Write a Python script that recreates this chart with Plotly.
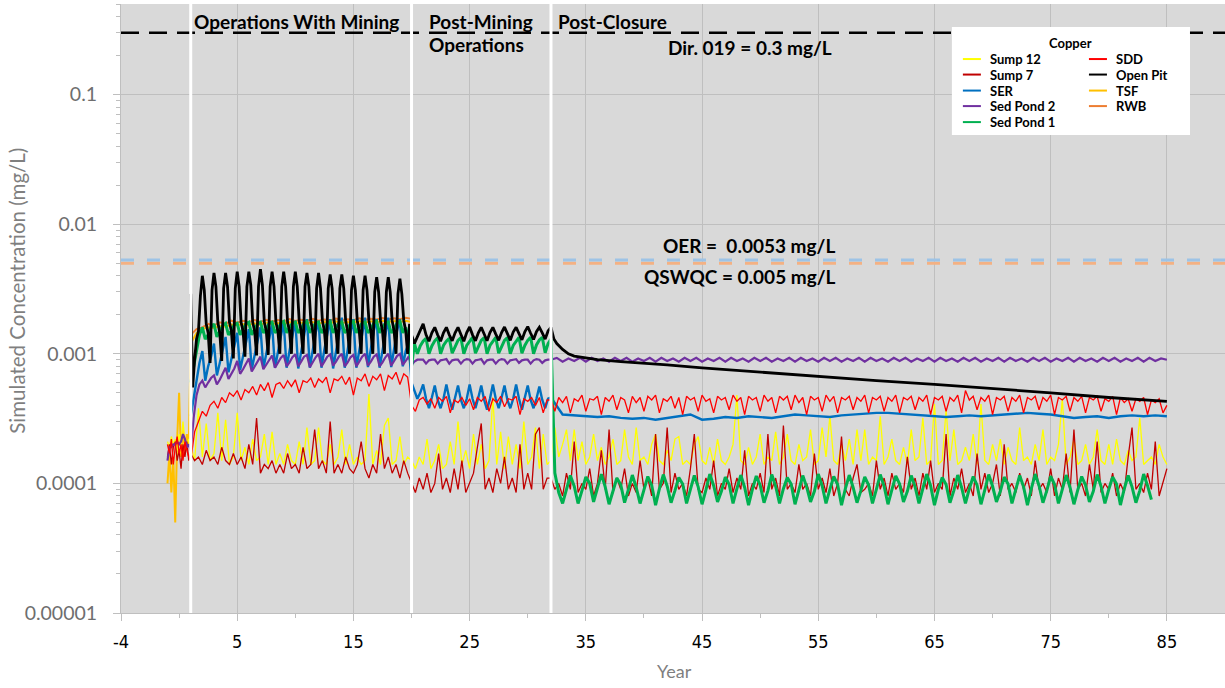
import plotly.graph_objects as go

# ---------------------------------------------------------------------------
# Time grids (years).  Each series is stored per project phase; the sampling
# step of each phase block is given next to it.
# ---------------------------------------------------------------------------
PRE_START, PRE_STEP = -1.0, 1 / 6      # pre-mining, two-monthly
OPS_START = 1.0                        # operations with mining
PM_START = 20.0                        # post-mining operations
PC_START = 32.0                        # post-closure
Q = 0.25                               # quarterly step
T3 = 1 / 3                             # four-monthly step
T6 = 1 / 6                             # two-monthly step

PHASE_BREAKS = [1, 20, 32]

# Guideline values (mg/L)
DIR019 = 0.3
OER = 0.0053
QSWQC = 0.005

# ---------------------------------------------------------------------------
# Simulated copper concentrations, in ug/L
# ---------------------------------------------------------------------------
SUMP12_PRE = [0.21, 0.19, 0.23, 0.2, 0.22, 0.18, 0.24, 0.2, 0.3, 0.21, 0.19, 0.22]
SUMP12_OPS = [0.2, 0.15, 0.38, 0.16, 0.29, 0.15, 0.17, 0.35, 0.15, 0.31, 0.14, 0.16,
              0.35, 0.15, 0.19, 0.14, 0.22, 0.15, 0.16, 0.24, 0.14, 0.25, 0.14, 0.17,
              0.14, 0.2, 0.15, 0.14, 0.21, 0.14, 0.27, 0.14, 0.15, 0.27, 0.15, 0.14,
              0.2, 0.14, 0.16, 0.26, 0.14, 0.2, 0.14, 0.16, 0.14, 0.15, 0.49, 0.14,
              0.18, 0.14, 0.28, 0.32, 0.14, 0.15, 0.23, 0.14, 0.16]
SUMP12_PM = [0.15, 0.13, 0.16, 0.14, 0.22, 0.13, 0.15, 0.2, 0.13, 0.14, 0.21, 0.14,
             0.3, 0.14, 0.18, 0.13, 0.24, 0.14, 0.2, 0.13, 0.15, 0.46, 0.14, 0.25,
             0.13, 0.23, 0.14, 0.2, 0.13, 0.3, 0.14, 0.16, 0.27, 0.13, 0.24, 0.14]
SUMP12_PC = [0.15, 0.27, 0.16, 0.2, 0.26, 0.15, 0.26, 0.15, 0.21, 0.14, 0.16, 0.24,
             0.15, 0.19, 0.14, 0.16, 0.22, 0.14, 0.15, 0.26, 0.16, 0.14, 0.27, 0.15,
             0.16, 0.14, 0.2, 0.24, 0.15, 0.14, 0.18, 0.15, 0.22, 0.23, 0.14, 0.15,
             0.14, 0.2, 0.23, 0.15, 0.14, 0.19, 0.14, 0.22, 0.15, 0.14, 0.16, 0.2,
             0.48, 0.15, 0.14, 0.19, 0.14, 0.16, 0.24, 0.14, 0.16, 0.15, 0.25, 0.14,
             0.16, 0.24, 0.15, 0.14, 0.2, 0.15, 0.16, 0.26, 0.14, 0.15, 0.27, 0.16,
             0.33, 0.15, 0.14, 0.2, 0.15, 0.22, 0.14, 0.26, 0.15, 0.26, 0.14, 0.16,
             0.15, 0.33, 0.14, 0.16, 0.22, 0.15, 0.14, 0.19, 0.14, 0.26, 0.15, 0.16,
             0.32, 0.14, 0.15, 0.41, 0.14, 0.15, 0.37, 0.15, 0.26, 0.14, 0.15, 0.19,
             0.15, 0.24, 0.14, 0.41, 0.15, 0.14, 0.2, 0.15, 0.22, 0.14, 0.19, 0.15,
             0.14, 0.27, 0.15, 0.16, 0.14, 0.2, 0.15, 0.26, 0.14, 0.16, 0.15, 0.2,
             0.45, 0.14, 0.16, 0.22, 0.14, 0.15, 0.2, 0.14, 0.16, 0.26, 0.15, 0.14,
             0.2, 0.14, 0.22, 0.15, 0.14, 0.18, 0.15, 0.16, 0.32, 0.14, 0.15, 0.16,
             0.14, 0.2, 0.16, 0.14]

SUMP7_PRE = [0.16, 0.2, 0.14, 0.19, 0.21, 0.15, 0.18, 0.13, 0.2, 0.16, 0.21, 0.15]
SUMP7_OPS = [0.17, 0.15, 0.16, 0.14, 0.18, 0.15, 0.16, 0.14, 0.19, 0.15, 0.14, 0.17,
             0.14, 0.16, 0.13, 0.2, 0.14, 0.32, 0.12, 0.14, 0.13, 0.15, 0.12, 0.14,
             0.12, 0.17, 0.13, 0.14, 0.12, 0.19, 0.13, 0.14, 0.26, 0.13, 0.15, 0.12,
             0.3, 0.12, 0.14, 0.12, 0.16, 0.13, 0.12, 0.14, 0.21, 0.13, 0.11, 0.14,
             0.12, 0.24, 0.13, 0.16, 0.12, 0.14, 0.11, 0.15, 0.12]
SUMP7_PM = [0.1, 0.085, 0.11, 0.09, 0.12, 0.085, 0.1, 0.17, 0.09, 0.11, 0.085, 0.13,
            0.09, 0.15, 0.085, 0.1, 0.12, 0.19, 0.29, 0.09, 0.11, 0.085, 0.13, 0.1,
            0.16, 0.09, 0.11, 0.085, 0.2, 0.09, 0.12, 0.09, 0.24, 0.27, 0.09, 0.11]
SUMP7_PC = [0.11, 0.09, 0.1, 0.08, 0.12, 0.09, 0.21, 0.085, 0.1, 0.09, 0.13, 0.08,
            0.1, 0.18, 0.09, 0.26, 0.085, 0.11, 0.09, 0.13, 0.08, 0.1, 0.085, 0.15,
            0.09, 0.11, 0.08, 0.24, 0.09, 0.1, 0.27, 0.085, 0.12, 0.09, 0.1, 0.08,
            0.13, 0.24, 0.09, 0.085, 0.11, 0.09, 0.15, 0.08, 0.1, 0.09, 0.13, 0.085,
            0.11, 0.09, 0.18, 0.08, 0.1, 0.09, 0.12, 0.085, 0.24, 0.09, 0.11, 0.08,
            0.28, 0.09, 0.1, 0.085, 0.14, 0.09, 0.1, 0.08, 0.17, 0.09, 0.11, 0.085,
            0.13, 0.08, 0.1, 0.23, 0.09, 0.08, 0.11, 0.14, 0.085, 0.09, 0.1, 0.08,
            0.15, 0.09, 0.11, 0.08, 0.12, 0.09, 0.1, 0.085, 0.16, 0.09, 0.11, 0.08,
            0.12, 0.09, 0.15, 0.085, 0.1, 0.09, 0.24, 0.08, 0.11, 0.09, 0.13, 0.085,
            0.1, 0.08, 0.17, 0.09, 0.12, 0.085, 0.1, 0.14, 0.08, 0.2, 0.09, 0.1,
            0.085, 0.12, 0.09, 0.11, 0.08, 0.15, 0.09, 0.1, 0.085, 0.13, 0.08, 0.11,
            0.09, 0.17, 0.085, 0.26, 0.09, 0.1, 0.08, 0.14, 0.09, 0.21, 0.085, 0.1,
            0.09, 0.12, 0.08, 0.1, 0.085, 0.16, 0.27, 0.09, 0.1, 0.085, 0.12, 0.09,
            0.21, 0.08, 0.1, 0.13]

SDD_PRE = [0.2, 0.17, 0.22, 0.14, 0.19, 0.23, 0.17, 0.2, 0.15, 0.21, 0.18, 0.16]
SDD_OPS = [0.15, 0.25, 0.3, 0.36, 0.33, 0.4, 0.43, 0.38, 0.46, 0.42, 0.5, 0.47,
           0.52, 0.44, 0.53, 0.5, 0.56, 0.48, 0.58, 0.52, 0.6, 0.46, 0.58, 0.6,
           0.54, 0.62, 0.56, 0.63, 0.5, 0.62, 0.6, 0.65, 0.55, 0.64, 0.6, 0.66,
           0.5, 0.64, 0.62, 0.67, 0.58, 0.66, 0.48, 0.65, 0.62, 0.7, 0.56, 0.67,
           0.63, 0.7, 0.52, 0.68, 0.64, 0.72, 0.58, 0.7, 0.66]
SDD_PM = [0.4, 0.36, 0.44, 0.46, 0.41, 0.45, 0.38, 0.46, 0.43, 0.47, 0.35, 0.44,
          0.42, 0.46, 0.4, 0.45, 0.37, 0.46, 0.43, 0.47, 0.36, 0.45, 0.42, 0.47,
          0.39, 0.45, 0.44, 0.47, 0.34, 0.45, 0.43, 0.46, 0.4, 0.46, 0.35, 0.44]
SDD_PC = [0.44, 0.36, 0.46, 0.42, 0.47, 0.35, 0.45, 0.43, 0.48, 0.36, 0.45, 0.44,
          0.47, 0.34, 0.46, 0.43, 0.48, 0.37, 0.46, 0.44, 0.35, 0.47, 0.42, 0.46,
          0.36, 0.47, 0.44, 0.48, 0.35, 0.45, 0.43, 0.47, 0.38, 0.46, 0.34, 0.47,
          0.44, 0.46, 0.36, 0.48, 0.43, 0.45, 0.35, 0.47, 0.44, 0.46, 0.37, 0.48,
          0.43, 0.46, 0.34, 0.47, 0.44, 0.46, 0.36, 0.48, 0.43, 0.46, 0.35, 0.47,
          0.44, 0.47, 0.37, 0.48, 0.42, 0.46, 0.34, 0.47, 0.44, 0.46, 0.36, 0.48,
          0.43, 0.47, 0.35, 0.46, 0.44, 0.47, 0.37, 0.46, 0.43, 0.48, 0.35, 0.46,
          0.44, 0.47, 0.36, 0.46, 0.43, 0.48, 0.35, 0.46, 0.44, 0.47, 0.37, 0.46,
          0.43, 0.48, 0.34, 0.46, 0.44, 0.47, 0.36, 0.46, 0.43, 0.48, 0.35, 0.52,
          0.44, 0.47, 0.37, 0.46, 0.43, 0.48, 0.34, 0.46, 0.44, 0.47, 0.36, 0.46,
          0.43, 0.48, 0.35, 0.46, 0.44, 0.47, 0.37, 0.46, 0.43, 0.48, 0.34, 0.46,
          0.44, 0.47, 0.36, 0.46, 0.43, 0.47, 0.35, 0.46, 0.44, 0.47, 0.36, 0.45,
          0.43, 0.47, 0.34, 0.46, 0.42, 0.45, 0.36, 0.45, 0.43, 0.46, 0.34, 0.44,
          0.42, 0.45, 0.35, 0.4]

SER_OPS = [0.33, 0.45, 0.65, 0.85, 1.05, 0.62, 0.8, 0.95, 1.2, 0.68, 0.85, 1.05,
           1.35, 0.72, 0.9, 1.15, 1.45, 0.75, 0.95, 1.2, 1.55, 0.76, 1.0, 1.25,
           1.6, 0.77, 1.0, 1.3, 1.7, 0.78, 1.05, 1.35, 1.75, 0.78, 1.05, 1.4,
           1.8, 0.77, 1.05, 1.4, 1.85, 0.78, 1.05, 1.45, 1.8, 0.78, 1.08, 1.45,
           1.85, 0.77, 1.05, 1.45, 1.9, 0.78, 1.08, 1.45, 1.85, 0.78, 1.05, 1.45,
           1.9, 0.79, 1.08, 1.5, 1.85, 0.78, 1.05, 1.45, 1.9, 0.79, 1.08, 1.5,
           1.85, 0.8, 1.05, 1.2]
SER_PM = [0.6, 0.52, 0.45, 0.5, 0.58, 0.45, 0.38, 0.46, 0.57, 0.44, 0.38, 0.45,
          0.58, 0.45, 0.37, 0.46, 0.57, 0.44, 0.38, 0.45, 0.58, 0.45, 0.38, 0.46,
          0.57, 0.44, 0.37, 0.45, 0.58, 0.45, 0.38, 0.46, 0.57, 0.44, 0.38, 0.45,
          0.58, 0.45, 0.37, 0.46, 0.57, 0.44, 0.38, 0.45, 0.56, 0.44, 0.38, 0.45]
SER_PC = [0.46, 0.34, 0.335, 0.33, 0.325, 0.33, 0.32, 0.315, 0.32, 0.31, 0.32,
          0.33, 0.34, 0.31, 0.315, 0.325, 0.32, 0.33, 0.325, 0.32, 0.33, 0.34,
          0.335, 0.33, 0.325, 0.335, 0.34, 0.345, 0.35, 0.35, 0.345, 0.34, 0.335,
          0.33, 0.325, 0.33, 0.335, 0.33, 0.335, 0.34, 0.345, 0.35, 0.345, 0.34,
          0.33, 0.32, 0.325, 0.33, 0.32, 0.33, 0.335, 0.33, 0.335, 0.33]

SEDPOND2_PRE = [0.15, 0.19, 0.19, 0.2, 0.2, 0.21, 0.2, 0.21, 0.24, 0.22, 0.19, 0.2]
SEDPOND2_OPS = [0.18, 0.32, 0.48, 0.58, 0.62, 0.55, 0.6, 0.65, 0.68, 0.58, 0.63, 0.7,
                0.78, 0.64, 0.7, 0.77, 0.88, 0.7, 0.76, 0.84, 0.92, 0.73, 0.8, 0.88,
                0.95, 0.76, 0.83, 0.91, 0.97, 0.78, 0.85, 0.93, 0.98, 0.8, 0.86, 0.94,
                0.99, 0.8, 0.87, 0.95, 0.98, 0.79, 0.86, 0.94, 1.0, 0.8, 0.87, 0.95,
                0.99, 0.81, 0.87, 0.95, 1.0, 0.8, 0.86, 0.94, 0.98, 0.8, 0.87, 0.95,
                1.0, 0.81, 0.87, 0.95, 0.99, 0.8, 0.86, 0.94, 1.0, 0.81, 0.88, 0.96,
                1.0, 0.82, 0.88, 0.95]
SEDPOND2_PM = [0.82, 0.87, 0.9, 0.9, 0.9, 0.84, 0.89, 0.9, 0.9, 0.84, 0.89, 0.9,
               0.91, 0.84, 0.89, 0.9, 0.9, 0.84, 0.89, 0.91, 0.9, 0.84, 0.89, 0.9,
               0.91, 0.84, 0.89, 0.9, 0.9, 0.84, 0.89, 0.91, 0.9, 0.84, 0.89, 0.9,
               0.91, 0.85, 0.89, 0.9, 0.9, 0.84, 0.89, 0.91, 0.9, 0.85, 0.89, 0.9]
SEDPOND2_PC = [0.9, 0.93, 0.87, 0.92, 0.88, 0.93, 0.87, 0.93, 0.88, 0.92,
               0.87, 0.93, 0.88, 0.93, 0.87, 0.92, 0.88, 0.93, 0.87, 0.93,
               0.88, 0.92, 0.87, 0.93, 0.88, 0.93, 0.87, 0.92, 0.88, 0.93,
               0.87, 0.93, 0.88, 0.92, 0.87, 0.93, 0.88, 0.93, 0.87, 0.92,
               0.88, 0.93, 0.87, 0.93, 0.88, 0.92, 0.87, 0.93, 0.88, 0.93,
               0.87, 0.92, 0.88, 0.93, 0.87, 0.93, 0.88, 0.92, 0.87, 0.93,
               0.88, 0.93, 0.87, 0.92, 0.88, 0.93, 0.87, 0.93, 0.88, 0.92,
               0.87, 0.93, 0.88, 0.93, 0.87, 0.92, 0.88, 0.93, 0.87, 0.93,
               0.88, 0.92, 0.87, 0.93, 0.88, 0.93, 0.87, 0.92, 0.88, 0.93,
               0.87, 0.93, 0.88, 0.92, 0.87, 0.93, 0.88, 0.93, 0.87, 0.92,
               0.88, 0.93, 0.87, 0.93, 0.88, 0.92, 0.9]

SEDPOND1_OPS = [0.6, 0.8, 1.1, 1.4, 1.6, 1.3, 1.4, 1.6, 1.7, 1.35, 1.5, 1.65,
                1.72, 1.4, 1.5, 1.68, 1.72, 1.4, 1.55, 1.7, 1.75, 1.4, 1.55, 1.7,
                1.75, 1.45, 1.55, 1.72, 1.76, 1.45, 1.55, 1.72, 1.78, 1.45, 1.6, 1.72,
                1.76, 1.45, 1.55, 1.72, 1.78, 1.45, 1.6, 1.72, 1.76, 1.45, 1.55, 1.72,
                1.78, 1.45, 1.6, 1.72, 1.76, 1.45, 1.55, 1.72, 1.78, 1.45, 1.6, 1.72,
                1.76, 1.45, 1.55, 1.72, 1.78, 1.45, 1.6, 1.72, 1.76, 1.45, 1.55, 1.72,
                1.78, 1.45, 1.6, 1.3]
SEDPOND1_PM = [0.8, 1.2, 1.0, 1.15, 1.25, 1.32, 1.0, 1.15, 1.26, 1.33, 1.0, 1.16,
               1.25, 1.32, 1.01, 1.15, 1.27, 1.33, 1.0, 1.16, 1.26, 1.34, 1.01, 1.15,
               1.27, 1.33, 1.0, 1.16, 1.26, 1.34, 1.01, 1.15, 1.27, 1.33, 1.0, 1.16,
               1.26, 1.34, 1.01, 1.16, 1.27, 1.34, 1.0, 1.17, 1.28, 1.34, 1.02, 1.2]
SEDPOND1_PC = [1.3, 0.12, 0.085, 0.07,
               0.09, 0.115, 0.095, 0.07, 0.088, 0.112, 0.1, 0.072,
               0.092, 0.118, 0.094, 0.069, 0.087, 0.11, 0.098, 0.071,
               0.09, 0.116, 0.093, 0.07, 0.089, 0.113, 0.097, 0.068,
               0.091, 0.117, 0.095, 0.071, 0.088, 0.111, 0.099, 0.07,
               0.09, 0.115, 0.094, 0.069, 0.089, 0.118, 0.096, 0.072,
               0.087, 0.112, 0.098, 0.07, 0.091, 0.116, 0.093, 0.068,
               0.09, 0.114, 0.097, 0.071, 0.088, 0.117, 0.095, 0.07,
               0.091, 0.111, 0.099, 0.069, 0.089, 0.115, 0.094, 0.072,
               0.087, 0.118, 0.096, 0.07, 0.09, 0.113, 0.098, 0.068,
               0.091, 0.116, 0.093, 0.071, 0.088, 0.112, 0.097, 0.07,
               0.09, 0.117, 0.095, 0.069, 0.089, 0.114, 0.099, 0.072,
               0.087, 0.115, 0.094, 0.07, 0.091, 0.118, 0.096, 0.068,
               0.09, 0.111, 0.098, 0.071, 0.088, 0.116, 0.093, 0.07,
               0.091, 0.113, 0.097, 0.069, 0.089, 0.117, 0.095, 0.072,
               0.087, 0.112, 0.099, 0.07, 0.09, 0.115, 0.094, 0.068,
               0.091, 0.118, 0.096, 0.071, 0.088, 0.114, 0.098, 0.07,
               0.09, 0.116, 0.093, 0.069, 0.089, 0.113, 0.097, 0.072,
               0.087, 0.117, 0.095, 0.07, 0.09, 0.112, 0.099, 0.068,
               0.091, 0.115, 0.094, 0.071, 0.088, 0.118, 0.096, 0.075]

# Open Pit during operations, two-monthly
OPENPIT_OPS = [2.9, 0.55, 0.9, 1.3, 1.5, 2.8,
               4.0, 3.1, 1.7, 1.45, 0.85, 3.1,
               4.2, 3.3, 1.75, 1.45, 0.88, 3.2,
               4.2, 3.3, 1.75, 1.5, 0.92, 3.2,
               4.3, 3.3, 1.75, 1.5, 0.95, 3.3,
               4.3, 3.4, 1.75, 1.5, 0.97, 3.3,
               4.5, 3.4, 1.75, 1.5, 0.98, 3.3,
               4.3, 3.3, 1.75, 1.5, 1.0, 3.3,
               4.3, 3.3, 1.75, 1.5, 1.0, 3.3,
               4.3, 3.3, 1.8, 1.5, 1.0, 3.3,
               4.2, 3.3, 1.8, 1.5, 1.0, 3.2,
               4.2, 3.2, 1.8, 1.5, 1.0, 3.2,
               4.1, 3.2, 1.8, 1.5, 1.0, 3.2,
               4.1, 3.2, 1.8, 1.5, 1.0, 3.1,
               4.0, 3.1, 1.8, 1.5, 1.0, 3.1,
               4.0, 3.1, 1.8, 1.5, 1.0, 3.0,
               3.9, 3.0, 1.8, 1.5, 1.0, 3.0,
               3.9, 3.0, 1.8, 1.5, 1.0, 2.9,
               3.8, 2.9, 1.8, 1.5, 1.0, 1.7]
OPENPIT_PM = [1.4, 1.2, 1.35, 1.5, 1.7, 1.4, 1.25, 1.45, 1.6, 1.4, 1.25, 1.45,
              1.6, 1.4, 1.26, 1.45, 1.6, 1.41, 1.25, 1.46, 1.61, 1.4, 1.26, 1.45,
              1.6, 1.42, 1.26, 1.46, 1.6, 1.42, 1.27, 1.46, 1.61, 1.43, 1.27, 1.47,
              1.6, 1.43, 1.28, 1.48, 1.62, 1.44, 1.29, 1.48, 1.6, 1.45, 1.3, 1.5]
OPENPIT_PC_YEARS = [32, 32.25, 32.5, 33, 33.5, 34, 35, 36, 38, 40, 42, 45, 50,
                    55, 60, 65, 70, 75, 80, 85]
OPENPIT_PC = [1.6, 1.3, 1.2, 1.08, 1.0, 0.96, 0.93, 0.9, 0.87, 0.84, 0.82, 0.78,
              0.72, 0.67, 0.62, 0.58, 0.54, 0.5, 0.46, 0.43]

TSF_PRE = [0.1, 0.17, 0.085, 0.16, 0.05, 0.22, 0.5, 0.16, 0.26, 0.18, 0.24, 0.2]
TSF_OPS = [1.2, 1.45, 1.55, 1.6, 1.58, 1.64, 1.62, 1.68, 1.66, 1.7, 1.67, 1.72,
           1.68, 1.74, 1.69, 1.73, 1.7, 1.76, 1.71, 1.74, 1.72, 1.76, 1.71, 1.76,
           1.72, 1.78, 1.73, 1.76, 1.74, 1.79, 1.74, 1.78, 1.75, 1.8, 1.76, 1.79,
           1.76, 1.8, 1.76]
RWB_OPS = [1.4, 1.55, 1.6, 1.7, 1.65, 1.75, 1.7, 1.8, 1.74, 1.8, 1.75, 1.82,
           1.76, 1.83, 1.77, 1.82, 1.78, 1.85, 1.79, 1.83, 1.8, 1.86, 1.8, 1.84,
           1.81, 1.87, 1.82, 1.85, 1.82, 1.88, 1.83, 1.86, 1.84, 1.89, 1.84, 1.88,
           1.85, 1.9, 1.86]

# name, colour, line width, [(start year, step, values), ...] in drawing order
SERIES = [
    ("TSF", "#FFC000", 2.0, [(PRE_START, PRE_STEP, TSF_PRE), (OPS_START, 0.5, TSF_OPS)]),
    ("RWB", "#ED7D31", 2.0, [(OPS_START, 0.5, RWB_OPS)]),
    ("Sump 12", "#FFFF00", 1.3, [(PRE_START, PRE_STEP, SUMP12_PRE), (OPS_START, T3, SUMP12_OPS),
                                 (PM_START, T3, SUMP12_PM), (PC_START, T3, SUMP12_PC)]),
    ("Sump 7", "#C00000", 1.3, [(PRE_START, PRE_STEP, SUMP7_PRE), (OPS_START, T3, SUMP7_OPS),
                                (PM_START, T3, SUMP7_PM), (PC_START, T3, SUMP7_PC)]),
    ("SER", "#0070C0", 2.4, [(OPS_START, Q, SER_OPS), (PM_START, Q, SER_PM), (PC_START, 1, SER_PC)]),
    ("Sed Pond 2", "#7030A0", 2.2, [(PRE_START, PRE_STEP, SEDPOND2_PRE), (OPS_START, Q, SEDPOND2_OPS),
                                    (PM_START, Q, SEDPOND2_PM), (PC_START, 0.5, SEDPOND2_PC)]),
    ("Sed Pond 1", "#00B050", 3.0, [(OPS_START, Q, SEDPOND1_OPS), (PM_START, Q, SEDPOND1_PM),
                                    (PC_START, T3, SEDPOND1_PC)]),
    ("SDD", "#FF0000", 1.3, [(PRE_START, PRE_STEP, SDD_PRE), (OPS_START, T3, SDD_OPS),
                             (PM_START, T3, SDD_PM), (PC_START, T3, SDD_PC)]),
    ("Open Pit", "#000000", 2.8, [(OPS_START, T6, OPENPIT_OPS), (PM_START, Q, OPENPIT_PM),
                                  (OPENPIT_PC_YEARS, None, OPENPIT_PC)]),
]

# legend layout (column-wise, as in the Excel legend)
LEGEND_COLUMNS = [["Sump 12", "Sump 7", "SER", "Sed Pond 2", "Sed Pond 1"],
                  ["SDD", "Open Pit", "TSF", "RWB"]]

X_MIN, X_MAX = -5, 90
X_TICKS = [-5, 5, 15, 25, 35, 45, 55, 65, 75, 85]
X_TICK_TEXT = ["-4", "5", "15", "25", "35", "45", "55", "65", "75", "85"]
Y_TICKS = [0.00001, 0.0001, 0.001, 0.01, 0.1]
Y_TICK_TEXT = ["0.00001", "0.0001", "0.001", "0.01", "0.1"]
Y_MIN_LOG, Y_MAX_LOG = -5, -0.30103


def build(segments):
    xs, ys = [], []
    for start, step, vals in segments:
        if step is None:
            xs += list(start)
        else:
            xs += [start + i * step for i in range(len(vals))]
        ys += [v / 1000.0 for v in vals]   # ug/L -> mg/L
    return xs, ys


fig = go.Figure()

# guideline lines
for val, col, dash, w in [(DIR019, "#000000", "18px,10px", 2.5),
                          (QSWQC, "#F4B183", "13px,13px", 3),
                          (OER, "#9DC3E6", "13px,13px", 3)]:
    fig.add_trace(go.Scatter(x=[X_MIN, X_MAX], y=[val, val], mode="lines",
                             line=dict(color=col, width=w, dash=dash),
                             showlegend=False, hoverinfo="skip"))

style = {}
for name, color, width, segs in SERIES:
    xs, ys = build(segs)
    style[name] = color
    fig.add_trace(go.Scatter(x=xs, y=ys, mode="lines", name=name,
                             line=dict(color=color, width=width),
                             showlegend=False))

shapes = []
for xb in PHASE_BREAKS:
    shapes.append(dict(type="line", xref="x", yref="paper", x0=xb, x1=xb, y0=0, y1=1,
                       line=dict(color="white", width=3), layer="above"))

FONT = "Lato, 'Open Sans', sans-serif"
annotations = []


def px_to_paper_x(px):
    return (px - 121.5) / 1103.5


def px_to_paper_y(py):
    return (612.5 - py) / 608.5


def label(text, px, py, anchor="left", size=19, color="#000000", bold=True, **kw):
    annotations.append(dict(text=f"<b>{text}</b>" if bold else text,
                            x=px_to_paper_x(px), y=px_to_paper_y(py),
                            xref="paper", yref="paper", showarrow=False,
                            xanchor=anchor, yanchor="middle",
                            font=dict(family=FONT, size=size, color=color), **kw))


# phase headings
label("Operations With Mining", 192, 21)
label("Post-Mining", 427, 21)
label("Operations", 427, 44)
label("Post-Closure", 556, 21)

# guideline labels
label("Dir. 019 = 0.3 mg/L", 750, 47, anchor="center")
label("OER =  0.0053 mg/L", 749, 245, anchor="center")
label("QSWQC = 0.005 mg/L", 740, 276, anchor="center")

# axis titles
label("Simulated Concentration (mg/L)", 18, 290, anchor="center", size=20.5,
      color="#7F7F7F", bold=False, textangle=-90)
label("Year", 675, 670, anchor="center", size=18, color="#7F7F7F", bold=False)

# legend box
shapes.append(dict(type="rect", xref="paper", yref="paper",
                   x0=px_to_paper_x(952), x1=px_to_paper_x(1190),
                   y0=px_to_paper_y(135), y1=px_to_paper_y(27),
                   fillcolor="white", line=dict(width=0), layer="above"))
label("Copper", 1071, 43, anchor="center", size=13)
col_x = [963, 1089]
row_y = [59, 74.5, 90.5, 106, 122]
for ci, col in enumerate(LEGEND_COLUMNS):
    for ri, name in enumerate(col):
        y = row_y[ri]
        shapes.append(dict(type="line", xref="paper", yref="paper",
                           x0=px_to_paper_x(col_x[ci]), x1=px_to_paper_x(col_x[ci] + 18),
                           y0=px_to_paper_y(y), y1=px_to_paper_y(y),
                           line=dict(color=style[name], width=2), layer="above"))
        label(name, col_x[ci] + 25, y, size=13)

GRID = "#BFBFBF"
fig.update_layout(
    width=1225, height=688,
    margin=dict(l=121, r=0, t=4, b=75),
    paper_bgcolor="white", plot_bgcolor="#D9D9D9",
    shapes=shapes, annotations=annotations,
    showlegend=False,
    xaxis=dict(range=[X_MIN, X_MAX], tickmode="array", tickvals=X_TICKS, ticktext=X_TICK_TEXT,
               showgrid=True, gridcolor=GRID, gridwidth=1, zeroline=False,
               showline=True, linecolor=GRID, linewidth=1,
               ticks="outside", ticklen=7, tickcolor=GRID, ticklabelstandoff=5,
               tickfont=dict(family="'Liberation Sans Narrow', 'DejaVu Sans Condensed', sans-serif",
                             size=18, color="#000000"),
               minor=dict(tickmode="array", tickvals=[0, 10, 20, 30, 40, 50, 60, 70, 80, 90],
                          ticks="outside", ticklen=4, tickcolor=GRID, showgrid=False)),
    yaxis=dict(type="log", range=[Y_MIN_LOG, Y_MAX_LOG], tickmode="array",
               tickvals=Y_TICKS, ticktext=Y_TICK_TEXT,
               showgrid=True, gridcolor=GRID, gridwidth=1, zeroline=False,
               showline=True, linecolor=GRID, linewidth=1,
               ticks="outside", ticklen=7, tickcolor=GRID, ticklabelstandoff=12,
               tickfont=dict(family=FONT, size=19.5, color="#6E6E6E"),
               minor=dict(tickmode="array",
                          tickvals=[m * 10.0 ** e for e in range(-5, 0) for m in range(2, 10)]
                          + [0.2, 0.3, 0.4],
                          ticks="outside", ticklen=4, tickcolor=GRID, showgrid=False)),
)

fig.write_html("out.html")
